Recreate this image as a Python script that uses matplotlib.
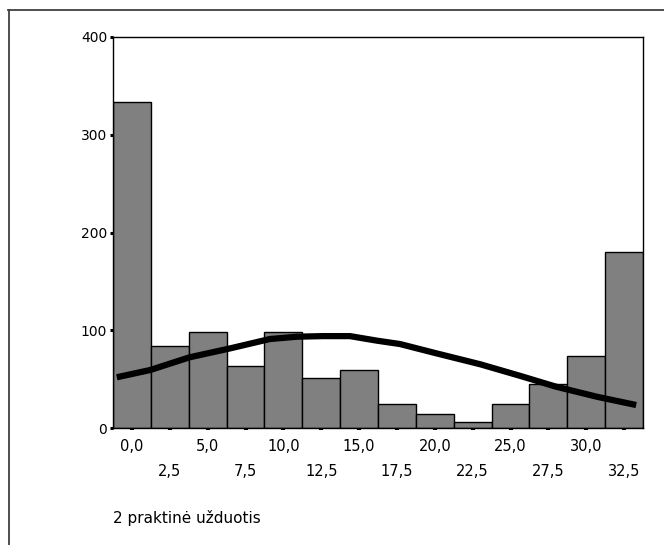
import matplotlib
matplotlib.use("Agg")
import matplotlib.pyplot as plt
from matplotlib.lines import Line2D

plt.rcParams['font.family'] = ['DejaVu Sans']

# Data
bin_centers = [0.0, 2.5, 5.0, 7.5, 10.0, 12.5, 15.0, 17.5, 20.0, 22.5, 25.0, 27.5, 30.0, 32.5]
counts = [334, 84, 98, 63, 98, 51, 59, 25, 14, 6, 25, 45, 74, 180]
tick_labels = ["0,0", "2,5", "5,0", "7,5", "10,0", "12,5", "15,0",
               "17,5", "20,0", "22,5", "25,0", "27,5", "30,0", "32,5"]
curve_x = [-1.0, 1.2, 3.8, 6.5, 9.1, 10.9, 12.6, 14.4, 16.2, 17.7, 20.1, 23.0, 25.6, 28.0, 30.7, 33.3]
curve_y = [51.9, 59.3, 72.3, 81.5, 91.0, 93.4, 94.0, 94.0, 89.3, 85.9, 76.4, 65.2, 53.5, 42.3, 32.0, 23.5]
yticks = [0, 100, 200, 300, 400]
xlabel = "2 praktinė užduotis"
bin_width = 2.5

FS = 10.5

fig = plt.figure(figsize=(6.64, 5.45), dpi=100)
ax = fig.add_axes([113/664, (545-428)/545, (643-113)/664, (428-37)/545])

ax.bar(bin_centers, counts, width=bin_width, color='#808080', edgecolor='black',
       linewidth=1.0, align='center', zorder=2)
ax.plot(curve_x, curve_y, color='black', linewidth=4.5, solid_capstyle='butt', zorder=3)

ax.set_xlim(bin_centers[0] - bin_width/2, bin_centers[-1] + bin_width/2)
ax.set_ylim(0, 400)

ax.set_yticks(yticks)
ax.set_yticklabels([str(v) for v in yticks], fontsize=10)
ax.tick_params(axis='y', direction='out', length=2.2, width=2.2, pad=2)

ax.set_xticks(bin_centers)
ax.set_xticklabels([lab if i % 2 == 0 else "\n" + lab for i, lab in enumerate(tick_labels)],
                   fontsize=FS, linespacing=1.85)
ax.tick_params(axis='x', direction='out', length=1.5, width=3.0, pad=6.5)

for s in ax.spines.values():
    s.set_color('black')
    s.set_linewidth(1.0)

fig.text(113/664, 1 - 518/545, xlabel, fontsize=11, ha='left', va='center')

# outer frame
fig.add_artist(Line2D([8/664, 1.0], [1 - 9.5/545, 1 - 9.5/545], transform=fig.transFigure,
                      color='#404040', linewidth=1.3))
fig.add_artist(Line2D([9/664, 9/664], [1 - 9.5/545, 0.0], transform=fig.transFigure,
                      color='#404040', linewidth=1.3))

fig.savefig("out.png", dpi=100)
